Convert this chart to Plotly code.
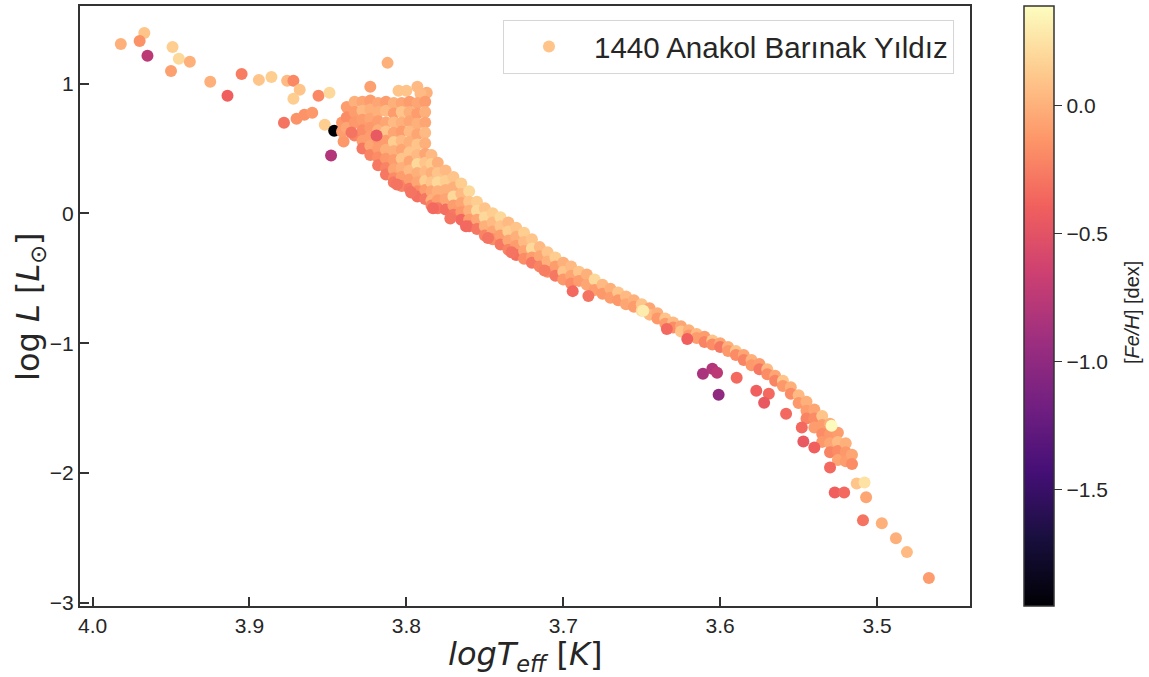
import plotly.graph_objects as go

# ---------------- data (logTeff [K], logL [Lsun], [Fe/H] [dex]) ----------------
# isolated stars on the bright upper branch
upper_teff = [3.967, 3.982, 3.970, 3.965, 3.949, 3.945, 3.938, 3.950, 3.925, 3.905,
              3.914, 3.894, 3.886, 3.876, 3.872, 3.868, 3.872, 3.856, 3.849, 3.878,
              3.870, 3.865, 3.860, 3.852, 3.846, 3.848, 3.840, 3.812, 3.823, 3.805,
              3.800, 3.793, 3.787, 3.791]
upper_logl = [1.389, 1.305, 1.328, 1.213, 1.282, 1.190, 1.167, 1.097, 1.013, 1.074,
              0.906, 1.028, 1.051, 1.021, 1.021, 0.952, 0.883, 0.906, 0.929, 0.698,
              0.729, 0.760, 0.775, 0.683, 0.637, 0.445, 0.553, 1.159, 0.975, 0.944,
              0.944, 0.975, 0.929, 0.921]
upper_feh = [0.10, 0.00, -0.15, -0.75, 0.15, 0.20, 0.00, -0.08, 0.00, -0.25,
             -0.40, 0.10, 0.15, 0.05, -0.20, 0.10, 0.15, -0.20, 0.20, -0.30,
             -0.15, -0.15, -0.12, 0.15, -1.95, -0.80, -0.12, 0.00, -0.08, 0.10,
             0.10, 0.05, 0.00, 0.05]

# dense clump + main sequence band, listed column by column
band_teff = [3.841, 3.838, 3.833, 3.828, 3.823, 3.818, 3.813, 3.808, 3.803, 3.798,
             3.793, 3.788, 3.784, 3.780, 3.775, 3.770, 3.765, 3.760, 3.755, 3.750,
             3.745, 3.740, 3.735, 3.730, 3.725, 3.720, 3.715, 3.710, 3.705, 3.700,
             3.695, 3.690, 3.685, 3.680, 3.675, 3.670, 3.665, 3.660, 3.655, 3.650,
             3.645, 3.640, 3.635, 3.630, 3.625, 3.620, 3.615, 3.610, 3.605, 3.600,
             3.595, 3.590, 3.585, 3.580, 3.575, 3.570, 3.565, 3.560, 3.555, 3.550,
             3.545, 3.540, 3.535, 3.530, 3.525, 3.520, 3.516]
band_logl = [
    [0.70, 0.63],
    [0.82, 0.74, 0.66],
    [0.86, 0.78, 0.70, 0.60],
    [0.86, 0.79, 0.72, 0.64, 0.56, 0.50],
    [0.87, 0.80, 0.73, 0.66, 0.59, 0.52, 0.45],
    [0.85, 0.78, 0.71, 0.64, 0.57, 0.50, 0.43, 0.37],
    [0.86, 0.79, 0.70, 0.63, 0.56, 0.49, 0.42, 0.35, 0.30],
    [0.85, 0.77, 0.70, 0.62, 0.55, 0.48, 0.41, 0.34, 0.27, 0.24],
    [0.85, 0.78, 0.70, 0.63, 0.56, 0.49, 0.42, 0.35, 0.28, 0.21],
    [0.86, 0.78, 0.71, 0.63, 0.55, 0.47, 0.40, 0.33, 0.26, 0.19],
    [0.85, 0.77, 0.69, 0.61, 0.53, 0.45, 0.38, 0.31, 0.24, 0.17, 0.13],
    [0.86, 0.78, 0.70, 0.62, 0.54, 0.46, 0.39, 0.32, 0.25, 0.18, 0.11],
    [0.45, 0.38, 0.31, 0.24, 0.17, 0.10, 0.06],
    [0.39, 0.31, 0.24, 0.17, 0.10, 0.04],
    [0.33, 0.25, 0.18, 0.11, 0.03],
    [0.28, 0.20, 0.13, 0.06, -0.01],
    [0.23, 0.15, 0.08, 0.01, -0.05],
    [0.17, 0.09, 0.02, -0.05, -0.10],
    [0.09, 0.02, -0.05, -0.12],
    [0.04, -0.03, -0.10, -0.17],
    [0.00, -0.07, -0.14, -0.20],
    [-0.03, -0.10, -0.17, -0.24],
    [-0.07, -0.14, -0.21, -0.28],
    [-0.11, -0.18, -0.25, -0.32],
    [-0.15, -0.22, -0.29, -0.35],
    [-0.20, -0.27, -0.34, -0.38],
    [-0.26, -0.33, -0.41],
    [-0.30, -0.37, -0.45],
    [-0.34, -0.41, -0.48],
    [-0.38, -0.45, -0.51],
    [-0.41, -0.48, -0.54],
    [-0.45, -0.52],
    [-0.47, -0.55],
    [-0.51, -0.59],
    [-0.55, -0.62],
    [-0.58, -0.65],
    [-0.61, -0.67],
    [-0.64, -0.70],
    [-0.67, -0.72],
    [-0.70, -0.75],
    [-0.73, -0.78],
    [-0.77, -0.81],
    [-0.81, -0.85],
    [-0.84, -0.88],
    [-0.87, -0.91],
    [-0.90, -0.94],
    [-0.93, -0.96],
    [-0.95, -0.99],
    [-0.98, -1.01],
    [-1.00, -1.03],
    [-1.03, -1.06],
    [-1.06, -1.09],
    [-1.09, -1.13],
    [-1.13, -1.17],
    [-1.16, -1.20],
    [-1.20, -1.24],
    [-1.25, -1.29],
    [-1.29, -1.33],
    [-1.34, -1.39],
    [-1.40, -1.46],
    [-1.45, -1.52, -1.58],
    [-1.51, -1.58, -1.65],
    [-1.56, -1.63, -1.70, -1.76],
    [-1.62, -1.70, -1.77, -1.84],
    [-1.69, -1.76, -1.83, -1.90],
    [-1.77, -1.84, -1.91],
    [-1.86, -1.93],
]
band_feh = [
    [-0.12, -0.10],
    [-0.10, -0.18, -0.05],
    [0.00, -0.10, -0.12, -0.22],
    [-0.05, 0.05, -0.10, -0.18, -0.10, -0.28],
    [-0.10, 0.00, -0.05, -0.12, -0.10, -0.05, -0.22],
    [-0.05, 0.00, -0.10, 0.00, -0.12, -0.10, -0.18, -0.28],
    [-0.10, 0.05, -0.05, 0.10, -0.10, 0.00, -0.12, -0.22, -0.28],
    [0.00, -0.10, 0.05, -0.05, 0.15, 0.00, -0.10, -0.05, -0.18, -0.28],
    [-0.05, 0.10, 0.00, -0.10, 0.05, -0.05, 0.10, 0.00, -0.10, -0.22],
    [-0.10, 0.00, -0.05, 0.05, 0.00, 0.10, -0.05, 0.05, -0.10, -0.28],
    [-0.05, -0.10, 0.00, -0.05, 0.10, 0.05, 0.20, 0.00, -0.05, -0.18, -0.32],
    [-0.10, 0.00, -0.05, 0.05, 0.00, -0.05, 0.10, 0.05, 0.15, -0.10, -0.28],
    [0.05, 0.15, 0.00, 0.10, -0.05, 0.00, -0.22],
    [0.00, 0.10, 0.20, 0.00, -0.10, -0.28],
    [0.05, 0.15, 0.00, -0.05, -0.32],
    [0.10, 0.00, 0.20, -0.10, -0.28],
    [0.15, 0.05, -0.05, -0.12, -0.35],
    [0.20, 0.10, 0.00, -0.10, -0.32],
    [0.15, 0.20, -0.05, -0.28],
    [0.10, 0.20, 0.00, -0.22],
    [0.15, 0.05, -0.05, -0.18],
    [0.20, 0.10, -0.10, -0.28],
    [0.05, 0.15, -0.05, -0.22],
    [0.10, 0.00, -0.10, -0.32],
    [0.15, 0.05, -0.05, -0.18],
    [0.10, 0.20, -0.10, -0.28],
    [0.05, -0.05, -0.22],
    [0.10, 0.00, -0.18],
    [0.15, -0.10, -0.28],
    [0.00, 0.10, -0.12],
    [0.05, -0.05, -0.18],
    [0.10, -0.10],
    [0.00, -0.05],
    [0.20, -0.10],
    [0.05, -0.12],
    [0.00, -0.10],
    [0.10, -0.12],
    [0.05, -0.05],
    [0.00, -0.10],
    [0.10, 0.20],
    [-0.05, 0.05],
    [0.00, -0.12],
    [0.10, -0.10],
    [0.05, -0.18],
    [-0.05, 0.10],
    [0.00, -0.12],
    [0.05, -0.10],
    [-0.10, -0.22],
    [0.10, -0.18],
    [-0.05, -0.28],
    [0.00, -0.12],
    [0.10, -0.18],
    [-0.05, -0.22],
    [0.00, -0.12],
    [-0.10, -0.28],
    [0.05, -0.18],
    [-0.05, -0.22],
    [0.10, -0.12],
    [0.00, -0.18],
    [0.05, -0.12],
    [0.00, -0.10, -0.22],
    [-0.05, -0.18, -0.10],
    [0.10, -0.10, -0.18, -0.12],
    [0.00, -0.12, -0.05, -0.22],
    [-0.10, 0.05, -0.18, -0.05],
    [0.00, -0.12, -0.10],
    [-0.05, -0.18],
]

# metal-poor / red outliers lying on top of the band
outlier_teff = [3.835, 3.819, 3.806, 3.797, 3.783, 3.772, 3.762, 3.748, 3.733, 3.712,
                3.694, 3.684, 3.649, 3.634, 3.621, 3.5895, 3.577, 3.569, 3.572, 3.558,
                3.548, 3.547, 3.540, 3.529, 3.530, 3.527, 3.521, 3.509,
                3.611, 3.605, 3.602, 3.601]
outlier_logl = [0.622, 0.599, 0.223, 0.160, 0.040, -0.040, -0.100, -0.190, -0.300, -0.440,
                -0.599, -0.637, -0.750, -0.890, -0.967, -1.266, -1.366, -1.389, -1.458, -1.543,
                -1.650, -1.757, -1.804, -1.635, -1.957, -2.149, -2.149, -2.364,
                -1.236, -1.197, -1.228, -1.397]
outlier_feh = [-0.30, -0.45, -0.30, -0.30, -0.35, -0.30, -0.35, -0.30, -0.30, -0.25,
               -0.35, -0.30, 0.30, -0.35, -0.40, -0.35, -0.40, -0.35, -0.45, -0.35,
               -0.35, -0.45, -0.40, 0.38, -0.35, -0.40, -0.35, -0.30,
               -0.85, -0.80, -0.75, -1.00]

# faint M-dwarf tail
tail_teff = [3.513, 3.508, 3.507, 3.497, 3.488, 3.481, 3.467]
tail_logl = [-2.080, -2.072, -2.187, -2.387, -2.502, -2.609, -2.809]
tail_feh = [0.10, 0.25, -0.05, 0.00, 0.00, 0.05, -0.10]

x_ticks = [4.0, 3.9, 3.8, 3.7, 3.6, 3.5]
y_ticks = [1, 0, -1, -2, -3]
cbar_ticks = [0.0, -0.5, -1.0, -1.5]
legend_label = "1440 Anakol Barınak Yıldız"

# ---------------- assemble ----------------
xs, ys, cs = list(upper_teff), list(upper_logl), list(upper_feh)
for t, ll, ff in zip(band_teff, band_logl, band_feh):
    for l, f in zip(ll, ff):
        xs.append(t); ys.append(l); cs.append(f)
xs += outlier_teff + tail_teff
ys += outlier_logl + tail_logl
cs += outlier_feh + tail_feh

FONT = "Liberation Sans, Arial, sans-serif"
MATH = "DejaVu Sans, sans-serif"
AX = "#333333"
TXT = "#262626"

fig = go.Figure()
fig.add_trace(go.Scatter(
    x=xs, y=ys, mode="markers", name=legend_label, showlegend=True,
    marker=dict(size=12, color=cs, colorscale="Magma", cmin=-1.953, cmax=0.388,
                line=dict(width=0), opacity=1,
                colorbar=dict(x=1.0607, xanchor="left", xpad=0, ypad=0,
                              y=0.5, yanchor="middle", len=1, lenmode="fraction",
                              thickness=30, outlinewidth=1.5, outlinecolor=AX,
                              ticks="outside", ticklen=8, tickwidth=1.2, tickcolor=AX,
                              tickvals=cbar_ticks, tickformat=".1f",
                              tickfont=dict(family=FONT, size=21, color=TXT))),
))

fig.update_layout(
    width=1149, height=677,
    margin=dict(l=80, r=179, t=4, b=71),
    paper_bgcolor="white", plot_bgcolor="white",
    font=dict(family=FONT, color=TXT),
    showlegend=True,
    legend=dict(x=0.982, xanchor="right", y=0.977, yanchor="top",
                bgcolor="white", bordercolor="#d6d6d6", borderwidth=1,
                font=dict(family=FONT, size=29.5, color=TXT),
                itemwidth=80),
    xaxis=dict(range=[4.008, 3.4408], tickvals=x_ticks, tickformat=".1f",
               showline=True, mirror=True, linecolor=AX, linewidth=2,
               ticks="inside", ticklen=9, tickwidth=1.5, tickcolor=AX,
               showgrid=False, zeroline=False,
               tickfont=dict(family=FONT, size=21, color=TXT)),
    yaxis=dict(range=[-3.024, 1.597], tickvals=y_ticks,
               showline=True, mirror=True, linecolor=AX, linewidth=2,
               ticks="inside", ticklen=9, tickwidth=1.5, tickcolor=AX,
               showgrid=False, zeroline=False,
               tickfont=dict(family=FONT, size=21, color=TXT)),
    annotations=[
        dict(text="log <i>L</i> [<i>L</i><sub>⊙</sub>]", xref="paper", yref="paper",
             x=-0.0562, y=0.5, xanchor="center", yanchor="middle",
             textangle=-90, showarrow=False,
             font=dict(family=MATH, size=32, color=TXT)),
        dict(text="<i>logT</i><sub><i>eff</i></sub> [<i>K</i>]", xref="paper", yref="paper",
             x=0.5, y=-0.0831, xanchor="center", yanchor="middle", showarrow=False,
             font=dict(family=MATH, size=32, color=TXT)),
        dict(text="[<i>Fe/H</i>] [dex]", xref="paper", yref="paper",
             x=1.182, y=0.49, xanchor="center", yanchor="middle",
             textangle=-90, showarrow=False,
             font=dict(family=FONT, size=20, color=TXT)),
    ],
)

fig.write_html("out.html")
